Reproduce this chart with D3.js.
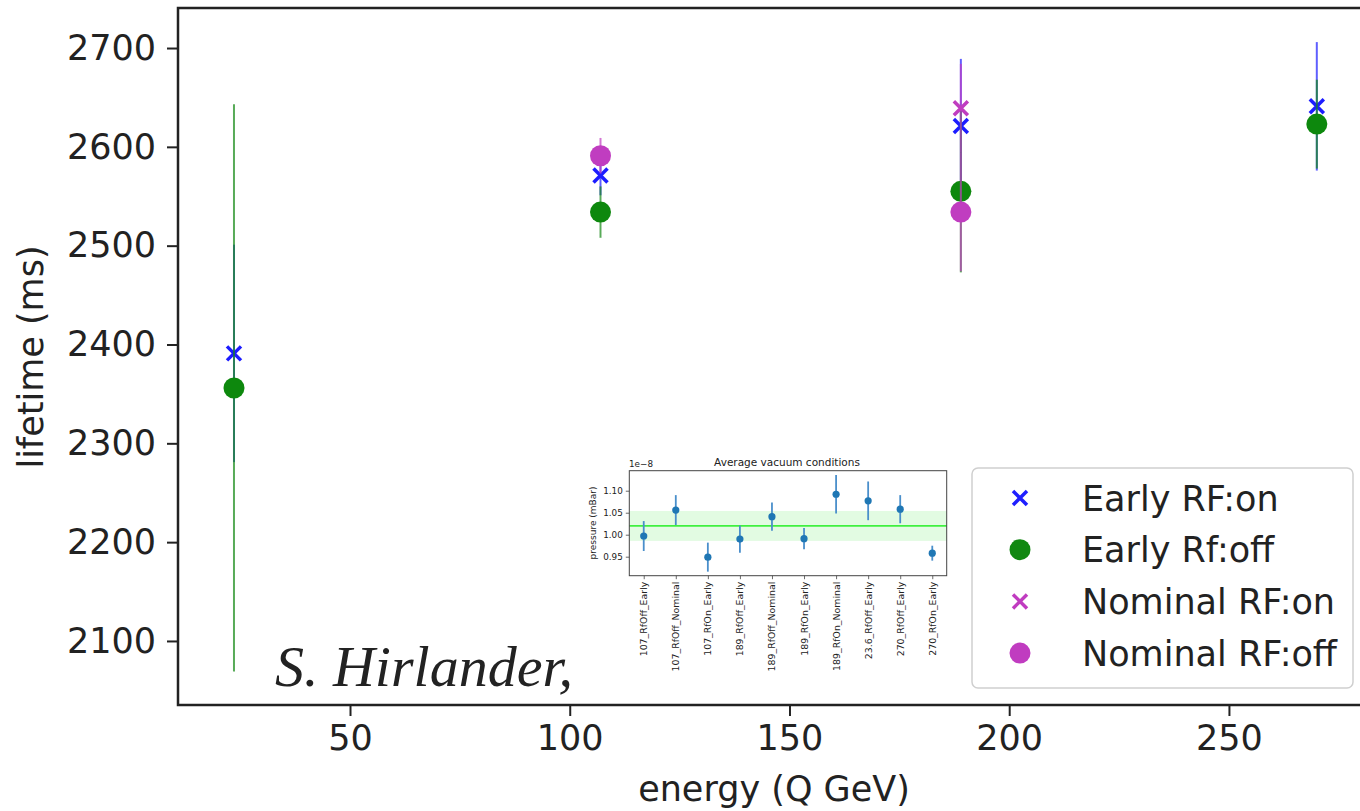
<!DOCTYPE html>
<html>
<head>
<meta charset="utf-8">
<style>
    body { margin: 0; background: #fff; }
    text { font-family: "DejaVu Sans", sans-serif; fill: #222; }
</style>
</head>
<body>
    <div id="vizDiv"></div>

    <script src="https://d3js.org/d3.v7.min.js"></script>
    <script>
        // main plot data: energy (Q GeV) vs lifetime (ms), one array per series
        const earlyOn = [
            { e: 23.6, v: 2391, err: 110 },
            { e: 107, v: 2571, err: 20 },
            { e: 189, v: 2621, err: 68 },
            { e: 270, v: 2641, err: 65 }
        ];
        const earlyOff = [
            { e: 23.6, v: 2356, err: 287 },
            { e: 107, v: 2534, err: 26 },
            { e: 189, v: 2555, err: 82 },
            { e: 270, v: 2623, err: 45 }
        ];
        const nominalOn = [
            { e: 189, v: 2639, err: 45 }
        ];
        const nominalOff = [
            { e: 107, v: 2591, err: 18 },
            { e: 189, v: 2534, err: 60 }
        ];
        const xTicks = [50, 100, 150, 200, 250];
        const yTicks = [2100, 2200, 2300, 2400, 2500, 2600, 2700];

        // inset data: average vacuum per run
        const runLabels = ["107_RfOff_Early", "107_RfOff_Nominal", "107_RfOn_Early", "189_RfOff_Early",
            "189_RfOff_Nominal", "189_RfOn_Early", "189_RfOn_Nominal", "23.6_RfOff_Early",
            "270_RfOff_Early", "270_RfOn_Early"];
        const pressure = [0.997, 1.056, 0.949, 0.990, 1.041, 0.991, 1.092, 1.077, 1.058, 0.958];
        const pressureErr = [0.034, 0.034, 0.033, 0.031, 0.032, 0.024, 0.044, 0.044, 0.032, 0.017];
        const pressureMean = 1.020;
        const pressureSpread = 0.034;
        const insetTicks = [0.95, 1.00, 1.05, 1.10];

        const W = 1360, H = 811;
        const FS = "35px";
        const svg = d3.select("#vizDiv")
            .append("svg")
            .attr("width", W)
            .attr("height", H);

        svg.append("rect").attr("width", W).attr("height", H).attr("fill", "#fff");

        const defs = svg.append("defs");
        defs.append("clipPath").attr("id", "plotClip")
            .append("rect").attr("x", 178).attr("y", 8).attr("width", 1192).attr("height", 697);
        defs.append("filter").attr("id", "soft")
            .append("feGaussianBlur").attr("stdDeviation", 0.6);

        // scales
        const x = d3.scaleLinear().domain([10.86, 282.1]).range([178, 1370]);
        const y = d3.scaleLinear().domain([2035.2, 2740.5]).range([705, 8]);

        // axes
        const yAxis = svg.append("g")
            .attr("transform", "translate(178,0)")
            .call(d3.axisLeft(y).tickValues(yTicks).tickSize(11).tickPadding(11).tickFormat(d3.format("d")));
        const xAxis = svg.append("g")
            .attr("transform", "translate(0,705)")
            .call(d3.axisBottom(x).tickValues(xTicks).tickSize(11).tickPadding(9).tickFormat(d3.format("d")));
        [xAxis, yAxis].forEach(a => {
            a.select(".domain").remove();
            a.selectAll(".tick line").attr("stroke", "#222").attr("stroke-width", 2);
            a.selectAll(".tick text").style("font-size", FS).attr("fill", "#222");
        });

        svg.append("text")
            .attr("transform", "translate(43,357) rotate(-90)")
            .attr("text-anchor", "middle")
            .style("font-size", FS)
            .text("lifetime (ms)");
        svg.append("text")
            .attr("x", 774).attr("y", 801)
            .attr("text-anchor", "middle")
            .style("font-size", FS)
            .text("energy (Q GeV)");

        // data layer
        const plot = svg.append("g").attr("clip-path", "url(#plotClip)").attr("filter", "url(#soft)");

        const series = [
            { data: earlyOn, color: "#1f1fff", shape: "x" },
            { data: earlyOff, color: "#118811", shape: "o" },
            { data: nominalOn, color: "#c03cc0", shape: "x" },
            { data: nominalOff, color: "#c03cc0", shape: "o" }
        ];

        series.forEach(s => {
            const g = plot.append("g");
            g.selectAll("line.err")
                .data(s.data)
                .enter()
                .append("line")
                .attr("class", "err")
                .attr("x1", d => x(d.e)).attr("x2", d => x(d.e))
                .attr("y1", d => y(d.v - d.err)).attr("y2", d => y(d.v + d.err))
                .attr("stroke", s.color)
                .attr("stroke-opacity", 0.7)
                .attr("stroke-width", 2);
            if (s.shape === "o") {
                g.selectAll("circle")
                    .data(s.data)
                    .enter()
                    .append("circle")
                    .attr("cx", d => x(d.e))
                    .attr("cy", d => y(d.v))
                    .attr("r", 10.5)
                    .attr("fill", s.color);
            } else {
                g.selectAll("path")
                    .data(s.data)
                    .enter()
                    .append("path")
                    .attr("transform", d => `translate(${x(d.e)},${y(d.v)})`)
                    .attr("d", "M-7,-7L7,7M-7,7L7,-7")
                    .attr("stroke", s.color)
                    .attr("stroke-width", 3.5)
                    .attr("fill", "none");
            }
        });

        // signature
        svg.append("text")
            .attr("x", 424).attr("y", 686)
            .attr("text-anchor", "middle")
            .attr("filter", "url(#soft)")
            .style("font-family", "'Liberation Serif', serif")
            .style("font-style", "italic")
            .style("font-size", "58px")
            .attr("fill", "#2e2e2e")
            .text("S. Hirlander,");

        // frame
        svg.append("rect")
            .attr("x", 178).attr("y", 8).attr("width", 1192).attr("height", 697)
            .attr("fill", "none").attr("stroke", "#222").attr("stroke-width", 2.5);

        // inset plot
        const ix = d3.scalePoint().domain(runLabels).range([629.3, 946.7]).padding(0.45);
        const iy = d3.scaleLinear().domain([0.9068, 1.1455]).range([575.7, 470.7]);
        const inset = svg.append("g");

        inset.append("rect")
            .attr("x", 629.3).attr("y", 470.7).attr("width", 317.4).attr("height", 105)
            .attr("fill", "#fff");
        inset.append("rect")
            .attr("x", 629.3).attr("width", 317.4)
            .attr("y", iy(pressureMean + pressureSpread))
            .attr("height", iy(pressureMean - pressureSpread) - iy(pressureMean + pressureSpread))
            .attr("fill", "#e2fbe2");
        inset.append("line")
            .attr("x1", 629.3).attr("x2", 946.7)
            .attr("y1", iy(pressureMean)).attr("y2", iy(pressureMean))
            .attr("stroke", "#3ff03f").attr("stroke-width", 1.6);

        inset.selectAll("line.perr")
            .data(pressure)
            .enter()
            .append("line")
            .attr("class", "perr")
            .attr("x1", (d, i) => ix(runLabels[i])).attr("x2", (d, i) => ix(runLabels[i]))
            .attr("y1", (d, i) => iy(d - pressureErr[i])).attr("y2", (d, i) => iy(d + pressureErr[i]))
            .attr("stroke", "#4a8fcb").attr("stroke-width", 1.8);
        inset.selectAll("circle")
            .data(pressure)
            .enter()
            .append("circle")
            .attr("cx", (d, i) => ix(runLabels[i]))
            .attr("cy", d => iy(d))
            .attr("r", 3.6)
            .attr("fill", "#1f77b4");

        const ixAxis = inset.append("g")
            .attr("transform", "translate(0,575.7)")
            .call(d3.axisBottom(ix).tickSize(3.5).tickPadding(3));
        ixAxis.selectAll(".tick text")
            .attr("transform", "rotate(-90)")
            .attr("text-anchor", "end")
            .attr("x", -6).attr("y", 0).attr("dy", "0.32em")
            .style("font-size", "9.4px").attr("fill", "#333");
        const iyAxis = inset.append("g")
            .attr("transform", "translate(629.3,0)")
            .call(d3.axisLeft(iy).tickValues(insetTicks).tickSize(3.5).tickPadding(3).tickFormat(d3.format(".2f")));
        iyAxis.selectAll(".tick text").style("font-size", "8.8px").attr("fill", "#333");
        [ixAxis, iyAxis].forEach(a => {
            a.select(".domain").remove();
            a.selectAll(".tick line").attr("stroke", "#444").attr("stroke-width", 0.8);
        });
        inset.append("rect")
            .attr("x", 629.3).attr("y", 470.7).attr("width", 317.4).attr("height", 105)
            .attr("fill", "none").attr("stroke", "#444").attr("stroke-width", 1);

        inset.append("text")
            .attr("x", 787).attr("y", 466)
            .attr("text-anchor", "middle")
            .style("font-size", "10.5px").attr("fill", "#333")
            .text("Average vacuum conditions");
        inset.append("text")
            .attr("x", 629).attr("y", 467)
            .style("font-size", "8.8px").attr("fill", "#333")
            .text("1e\u22128");
        inset.append("text")
            .attr("transform", "translate(596,523) rotate(-90)")
            .attr("text-anchor", "middle")
            .style("font-size", "9px").attr("fill", "#333")
            .text("pressure (mBar)");

        // legend
        const legendItems = [
            { label: "Early RF:on", color: "#1f1fff", shape: "x" },
            { label: "Early Rf:off", color: "#118811", shape: "o" },
            { label: "Nominal RF:on", color: "#c03cc0", shape: "x" },
            { label: "Nominal RF:off", color: "#c03cc0", shape: "o" }
        ];
        const legend = svg.append("g");
        legend.append("rect")
            .attr("x", 972).attr("y", 468).attr("width", 381).attr("height", 220)
            .attr("rx", 6)
            .attr("fill", "#fff").attr("fill-opacity", 0.85)
            .attr("stroke", "#cfcfcf").attr("stroke-width", 1.5);
        const rows = legend.selectAll("g.row")
            .data(legendItems)
            .enter()
            .append("g")
            .attr("class", "row")
            .attr("transform", (d, i) => `translate(1020,${498 + i * 51.7})`);
        rows.each(function (d) {
            const r = d3.select(this);
            if (d.shape === "o") {
                r.append("circle").attr("r", 10.5).attr("fill", d.color);
            } else {
                r.append("path")
                    .attr("d", "M-7,-7L7,7M-7,7L7,-7")
                    .attr("stroke", d.color).attr("stroke-width", 3.5);
            }
            r.append("text")
                .attr("x", 62).attr("dy", "0.36em")
                .style("font-size", FS)
                .text(d.label);
        });
    </script>
</body>
</html>
